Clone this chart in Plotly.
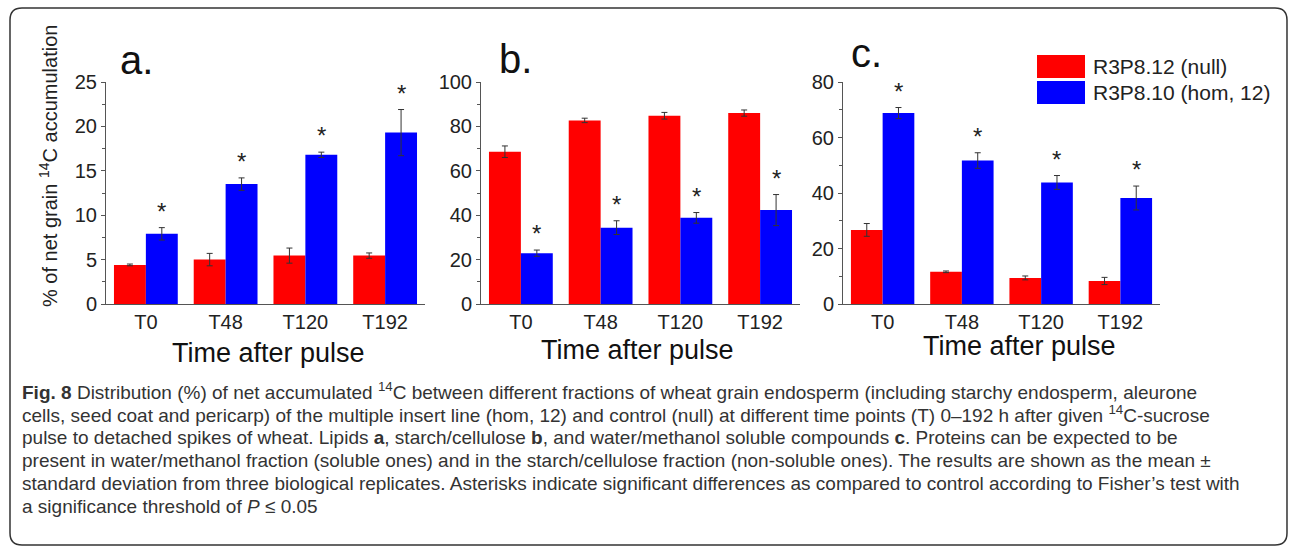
import plotly.graph_objects as go

W, H = 1290, 548

categories = ["T0", "T48", "T120", "T192"]
series_names = ["R3P8.12 (null)", "R3P8.10 (hom, 12)"]

# Panel a: lipids
a_null = [4.4, 5.0, 5.45, 5.45]
a_null_err = [0.1, 0.7, 0.85, 0.3]
a_hom = [7.9, 13.5, 16.8, 19.3]
a_hom_err = [0.7, 0.7, 0.3, 2.6]

# Panel b: starch/cellulose
b_null = [68.6, 82.7, 84.8, 86.0]
b_null_err = [2.6, 1.0, 1.5, 1.4]
b_hom = [22.9, 34.4, 38.8, 42.3]
b_hom_err = [1.4, 3.1, 2.4, 7.0]

# Panel c: water/methanol soluble
c_null = [26.7, 11.6, 9.4, 8.3]
c_null_err = [2.3, 0.3, 0.7, 1.3]
c_hom = [68.8, 51.7, 43.8, 38.2]
c_hom_err = [2.0, 2.8, 2.5, 4.3]

panel_letters = ["a.", "b.", "c."]
y_ranges = [25, 100, 80]
y_dticks = [5, 20, 20]

RED = "#ff0000"
BLUE = "#0000ff"
FONT = "Liberation Sans, Arial, sans-serif"


def px(x):
    return x / W


def py(y):
    return 1 - y / H


panels = [
    (a_null, a_null_err, a_hom, a_hom_err),
    (b_null, b_null_err, b_hom, b_hom_err),
    (c_null, c_null_err, c_hom, c_hom_err),
]
x_domains_px = [(106, 425), (481, 800), (843, 1160)]
y_top_px, y_bot_px = 82, 304

fig = go.Figure()
xs = list(range(len(categories)))
annotations = []
shapes = []

for i, (nv, ne, hv, he) in enumerate(panels):
    xa = "x" if i == 0 else f"x{i+1}"
    ya = "y" if i == 0 else f"y{i+1}"
    for vals, errs, col, name in [(nv, ne, RED, series_names[0]), (hv, he, BLUE, series_names[1])]:
        fig.add_trace(go.Bar(
            x=xs, y=vals, name=name, marker=dict(color=col, line=dict(width=0)),
            error_y=dict(type="data", array=errs, visible=True, color="#333333", thickness=1, width=3),
            xaxis=xa, yaxis=ya, showlegend=False, offsetgroup=name,
        ))
    for k in xs:
        annotations.append(dict(
            x=k + 0.2, y=hv[k] + he[k], xref=xa, yref=ya, text="*", showarrow=False,
            yanchor="bottom", yshift=1, font=dict(family=FONT, size=24, color="#222222"),
        ))
    d0, d1 = x_domains_px[i]
    lay_x = dict(
        domain=[px(d0), px(d1)], range=[-0.5, 3.5], tickvals=xs, ticktext=categories,
        showline=True, linecolor="#555555", linewidth=1, ticks="", showgrid=False, zeroline=False,
        tickfont=dict(family=FONT, size=20, color="#222222"), anchor=ya, fixedrange=True,
        automargin=False,
    )
    lay_y = dict(
        domain=[py(y_bot_px), py(y_top_px)], range=[0, y_ranges[i]], dtick=y_dticks[i],
        showline=True, linecolor="#555555", linewidth=1, ticks="outside", ticklen=4,
        tickcolor="#555555", showgrid=False, zeroline=False,
        minor=dict(dtick=y_dticks[i] / 2, ticks="outside", ticklen=3, tickcolor="#555555", showgrid=False),
        tickfont=dict(family=FONT, size=20, color="#222222"), anchor=xa, fixedrange=True,
        automargin=False,
    )
    fig.update_layout(**{("xaxis" if i == 0 else f"xaxis{i+1}"): lay_x,
                         ("yaxis" if i == 0 else f"yaxis{i+1}"): lay_y})

# panel letters
for (lx, ly), t in zip([(118, 76), (497, 75), (849, 69)], panel_letters):
    annotations.append(dict(x=px(lx), y=py(ly), xref="paper", yref="paper", text=t, showarrow=False,
                            xanchor="left", yanchor="bottom", yshift=-8,
                            font=dict(family=FONT, size=40, color="#111111")))

# x-axis titles
for cx, cy in [(268, 353), (637, 350), (1019, 346)]:
    annotations.append(dict(x=px(cx), y=py(cy), xref="paper", yref="paper", text="Time after pulse",
                            showarrow=False, xanchor="center", yanchor="middle",
                            font=dict(family=FONT, size=27, color="#111111")))

# y-axis title
annotations.append(dict(x=px(48), y=py(166), xref="paper", yref="paper",
                        text="% of net grain <sup>14</sup>C accumulation", textangle=-90,
                        showarrow=False, xanchor="center", yanchor="middle",
                        font=dict(family=FONT, size=20, color="#222222")))

# legend (manual)
for (y0, y1), col, name in [((55, 78), RED, series_names[0]), ((81, 104), BLUE, series_names[1])]:
    shapes.append(dict(type="rect", xref="paper", yref="paper", x0=px(1037), x1=px(1085),
                       y0=py(y1), y1=py(y0), fillcolor=col, line=dict(width=0)))
    annotations.append(dict(x=px(1091), y=py((y0 + y1) / 2), xref="paper", yref="paper", text=name,
                            showarrow=False, xanchor="left", yanchor="middle",
                            font=dict(family=FONT, size=21, color="#222222")))

# caption
caption_lines = [
    "<b>Fig. 8</b> Distribution (%) of net accumulated <sup>14</sup>C between different fractions of wheat grain endosperm (including starchy endosperm, aleurone",
    "cells, seed coat and pericarp) of the multiple insert line (hom, 12) and control (null) at different time points (T) 0–192 h after given <sup>14</sup>C-sucrose",
    "pulse to detached spikes of wheat. Lipids <b>a</b>, starch/cellulose <b>b</b>, and water/methanol soluble compounds <b>c</b>. Proteins can be expected to be",
    "present in water/methanol fraction (soluble ones) and in the starch/cellulose fraction (non-soluble ones). The results are shown as the mean ±",
    "standard deviation from three biological replicates. Asterisks indicate significant differences as compared to control according to Fisher’s test with",
    "a significance threshold of <i>P</i> ≤ 0.05",
]
for j, line in enumerate(caption_lines):
    annotations.append(dict(x=px(20), y=py(391 + 23 * j), xref="paper", yref="paper", text=line,
                            showarrow=False, xanchor="left", yanchor="middle",
                            font=dict(family=FONT, size=19, color="#333333")))

# rounded border
bx0, by0, bx1, by1, r = 10, 8, 1287, 545, 12
pts = [("M", bx0 + r, by0), ("L", bx1 - r, by0), ("Q", bx1, by0, bx1, by0 + r), ("L", bx1, by1 - r),
       ("Q", bx1, by1, bx1 - r, by1), ("L", bx0 + r, by1), ("Q", bx0, by1, bx0, by1 - r),
       ("L", bx0, by0 + r), ("Q", bx0, by0, bx0 + r, by0)]
parts = []
for p in pts:
    cmd, coords = p[0], p[1:]
    xy = [f"{px(coords[k]):.5f},{py(coords[k+1]):.5f}" for k in range(0, len(coords), 2)]
    parts.append(cmd + " " + " ".join(xy))
shapes.append(dict(type="path", xref="paper", yref="paper", path=" ".join(parts) + " Z",
                   line=dict(color="#333333", width=1.5)))

fig.update_layout(
    width=W, height=H, margin=dict(l=0, r=0, t=0, b=0, autoexpand=False),
    paper_bgcolor="white", plot_bgcolor="white",
    barmode="group", bargap=0.2, bargroupgap=0,
    annotations=annotations, shapes=shapes, showlegend=False,
)

fig.write_html("out.html", config={"displayModeBar": False},
               post_script="document.body.style.margin='0';document.body.style.overflow='hidden';")
